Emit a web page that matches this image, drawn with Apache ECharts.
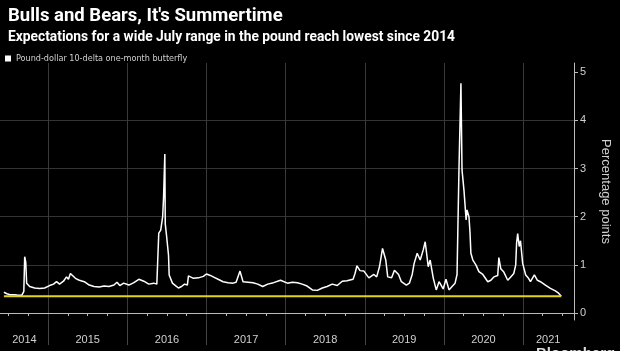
<!DOCTYPE html>
<html>
<head>
<meta charset="utf-8">
<title>Bulls and Bears, It's Summertime</title>
<script src="https://cdn.jsdelivr.net/npm/echarts@6/dist/echarts.min.js"></script>
</head>
<body style="margin:0;background:#000">
<div id="main" style="width:620px;height:351px"></div>
<script>
// GBP/USD 10-delta one-month butterfly
const dates = [
  '2014-06-10','2014-06-24','2014-07-08','2014-07-17','2014-07-31','2014-08-14','2014-08-23','2014-09-01','2014-09-10','2014-09-14',
  '2014-09-19','2014-09-23','2014-10-07','2014-10-30','2014-11-22','2014-12-15','2015-01-07','2015-01-25','2015-02-08','2015-02-22',
  '2015-03-12','2015-03-26','2015-04-04','2015-04-13','2015-04-22','2015-05-06','2015-05-24','2015-06-16','2015-07-09','2015-07-31',
  '2015-08-24','2015-09-16','2015-10-08','2015-10-31','2015-11-14','2015-11-27','2015-12-15','2016-01-08','2016-01-31','2016-02-23',
  '2016-03-17','2016-04-09','2016-05-02','2016-05-16','2016-05-25','2016-06-03','2016-06-12','2016-06-16','2016-06-22','2016-06-24',
  '2016-06-30','2016-07-09','2016-07-12','2016-07-27','2016-08-10','2016-08-24','2016-09-07','2016-09-21','2016-10-04','2016-10-09',
  '2016-11-01','2016-11-24','2016-12-17','2016-12-31','2017-01-18','2017-02-05','2017-02-23','2017-03-18','2017-04-10','2017-05-03',
  '2017-05-17','2017-06-04','2017-06-18','2017-07-11','2017-08-03','2017-08-25','2017-09-17','2017-10-10','2017-11-06','2017-12-08',
  '2018-01-09','2018-02-01','2018-02-24','2018-03-18','2018-04-10','2018-05-04','2018-05-27','2018-06-19','2018-07-11','2018-08-04',
  '2018-08-27','2018-09-19','2018-10-11','2018-11-08','2018-11-17','2018-11-26','2018-12-10','2018-12-28','2019-01-20','2019-02-12',
  '2019-02-25','2019-03-10','2019-03-24','2019-04-08','2019-04-17','2019-05-05','2019-05-18','2019-06-06','2019-06-19','2019-07-12',
  '2019-07-26','2019-08-08','2019-08-17','2019-08-31','2019-09-14','2019-09-28','2019-10-07','2019-10-21','2019-10-30','2019-11-13',
  '2019-11-27','2019-12-10','2019-12-29','2020-01-11','2020-01-25','2020-02-08','2020-02-22','2020-03-02','2020-03-11','2020-03-20',
  '2020-03-25','2020-04-03','2020-04-13','2020-04-17','2020-04-26','2020-05-01','2020-05-05','2020-05-14','2020-05-28','2020-06-11',
  '2020-06-29','2020-07-22','2020-08-05','2020-08-19','2020-09-06','2020-09-11','2020-09-20','2020-10-04','2020-10-22','2020-11-05',
  '2020-11-19','2020-11-28','2020-12-02','2020-12-07','2020-12-14','2020-12-20','2020-12-30','2021-01-13','2021-01-26','2021-02-04',
  '2021-02-22','2021-03-08','2021-03-22','2021-04-14','2021-05-07','2021-05-30','2021-06-12','2021-06-26'
];
const butterfly = [
  0.43,0.40,0.38,0.41,0.38,0.37,0.33,0.37,0.45,1.17,
  1.05,0.62,0.55,0.52,0.51,0.52,0.57,0.60,0.65,0.60,
  0.66,0.75,0.70,0.82,0.78,0.72,0.68,0.65,0.58,0.55,
  0.54,0.56,0.55,0.58,0.64,0.57,0.62,0.58,0.63,0.70,
  0.66,0.60,0.62,0.60,1.66,1.72,2.00,2.39,3.30,1.85,
  1.60,1.20,0.79,0.62,0.57,0.52,0.55,0.60,0.58,0.77,
  0.72,0.73,0.76,0.81,0.78,0.74,0.70,0.65,0.63,0.62,
  0.64,0.87,0.65,0.64,0.63,0.60,0.55,0.60,0.63,0.68,
  0.62,0.64,0.63,0.60,0.56,0.48,0.47,0.52,0.55,0.60,
  0.57,0.66,0.67,0.70,0.82,0.98,0.88,0.87,0.73,0.80,
  0.75,0.96,1.34,1.10,0.75,0.73,0.89,0.80,0.65,0.58,
  0.62,0.80,1.03,1.24,1.10,1.31,1.48,0.96,1.10,0.73,
  0.48,0.65,0.50,0.70,0.48,0.55,0.62,0.80,3.00,4.77,
  2.97,2.55,1.93,2.14,2.00,1.66,1.24,1.10,1.00,0.86,
  0.80,0.65,0.68,0.75,0.78,1.15,0.92,0.85,0.68,0.75,
  0.82,1.00,1.45,1.65,1.38,1.50,1.03,0.79,0.72,0.65,
  0.79,0.68,0.65,0.58,0.51,0.46,0.42,0.35
];
// current level, drawn across the whole history
const lowLevel = 0.35;

const years = [2014, 2015, 2016, 2017, 2018, 2019, 2020, 2021];
const yearStarts = ['2015-01-01','2016-01-01','2017-01-01','2018-01-01','2019-01-01','2020-01-01','2021-01-01'];
const yearLabelAt = ['2014-09-13','2015-07-02','2016-07-02','2017-07-02','2018-07-02','2019-07-02','2020-07-02','2021-04-27'];
const yTicks = [0, 1, 2, 3, 4, 5];

const quarterTicks = [];
years.forEach(y => ['-04-01', '-07-01', '-10-01'].forEach(m => quarterTicks.push(y + m)));

const ts = d => Date.parse(d);
const xMin = ts('2014-05-23'), xMax = ts('2021-08-24');

const chart = echarts.init(document.getElementById('main'));
const fg = '#d0d0d0';
const gridCol = '#333';

chart.setOption({
  backgroundColor: '#000',
  animation: false,
  title: [{
    text: "Bulls and Bears, It's Summertime",
    left: 3, top: 2,
    textStyle: { color: '#fff', fontSize: 18.5, fontWeight: 'bold', fontFamily: 'Roboto' }
  }, {
    text: 'Expectations for a wide July range in the pound reach lowest since 2014',
    left: 3, top: 26,
    textStyle: { color: '#fff', fontSize: 13.8, fontWeight: 'bold', fontFamily: 'Roboto' }
  }],
  legend: {
    data: ['Pound-dollar 10-delta one-month butterfly'],
    left: 0, top: 49,
    icon: 'rect', itemWidth: 6, itemHeight: 6, itemGap: 3,
    textStyle: { color: fg, fontSize: 9, fontFamily: "'DejaVu Sans Condensed', 'Liberation Sans Narrow', Roboto" }
  },
  graphic: [{
    type: 'text', left: 536, top: 346,
    style: { text: 'Bloomberg', fill: '#ddd', fontSize: 15, fontWeight: 'bold', fontFamily: 'Liberation Sans' }
  }],
  grid: { left: 0, right: 41, top: 63, bottom: 31 },
  xAxis: [{
    type: 'value', min: xMin, max: xMax, position: 'bottom',
    axisLine: { show: true, lineStyle: { color: '#bbb', width: 1 } },
    axisTick: { show: true, customValues: quarterTicks.map(ts), length: 3, lineStyle: { color: '#bbb' } },
    axisLabel: { show: false },
    splitLine: { show: false }
  }, {
    type: 'value', min: xMin, max: xMax, position: 'bottom',
    axisLine: { show: false },
    axisTick: { show: true, customValues: yearStarts.map(ts), length: 25, lineStyle: { color: '#444' } },
    axisLabel: {
      customValues: yearLabelAt.map(ts), color: fg, fontSize: 11, margin: 14,
      formatter: v => String(new Date(v).getFullYear())
    },
    splitLine: { show: true, lineStyle: { color: '#3a3a3a', width: 1 } }
  }],
  yAxis: {
    type: 'value', position: 'right', min: -0.145, max: 5.19,
    name: 'Percentage points', nameLocation: 'middle', nameRotate: -90, nameGap: 25,
    nameTextStyle: { color: fg, fontSize: 13 },
    axisLine: { show: true, lineStyle: { color: '#bbb' } },
    axisTick: { show: true, customValues: yTicks, length: 4, lineStyle: { color: '#bbb' } },
    axisLabel: { customValues: yTicks, color: fg, fontSize: 11, margin: 6 },
    splitLine: { show: true, showMinLine: false, showMaxLine: false, lineStyle: { color: gridCol } }
  },
  series: [{
    name: 'Pound-dollar 10-delta one-month butterfly',
    type: 'line', xAxisIndex: 0, showSymbol: false,
    lineStyle: { color: '#fff', width: 1.5 },
    itemStyle: { color: '#fff' },
    data: dates.map((d, i) => [ts(d), butterfly[i]])
  }, {
    name: 'level', type: 'line', xAxisIndex: 0, showSymbol: false,
    lineStyle: { color: '#e6d31e', width: 2 },
    data: [[ts(dates[0]), lowLevel], [ts(dates[dates.length - 1]), lowLevel]]
  }]
});
</script>
</body>
</html>
